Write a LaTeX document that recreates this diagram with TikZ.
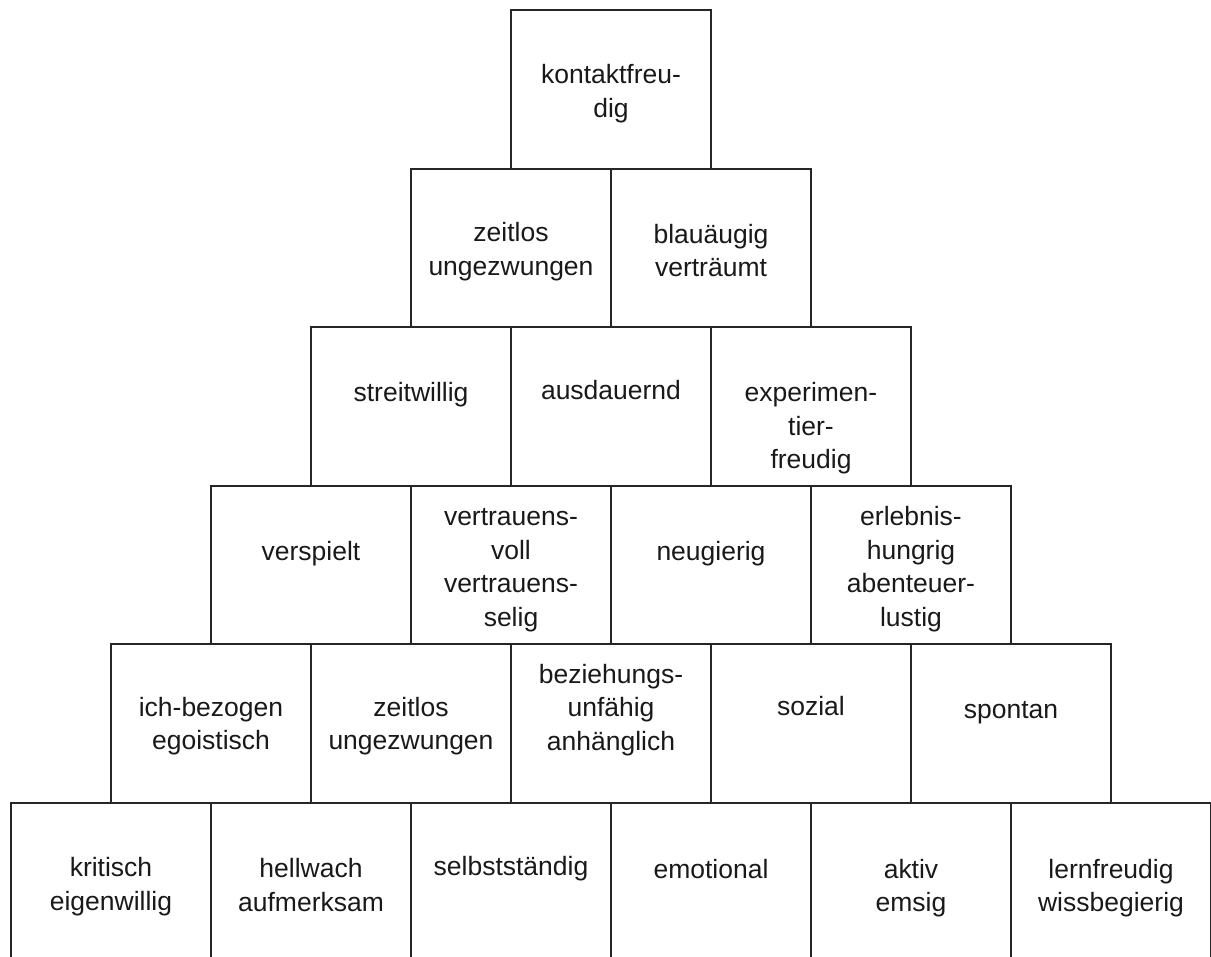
\documentclass[tikz,border=0pt]{standalone}
\usepackage{fontspec}
\setmainfont{Liberation Sans}
\tikzset{
  feld/.style={draw=black!85,line width=1.1pt,minimum width=4cm,minimum height=3.172cm,inner sep=0pt},
  wort/.style={align=center,inner sep=0pt,text=black!90,font=\fontsize{15.08pt}{19.06pt}\selectfont}
}
\begin{document}
\begin{tikzpicture}[x=0.02cm,y=-0.02cm]
\useasboundingbox (0,0) rectangle (1211,957);

% Reihe 1
\node(f11) at (611,89.3)[feld]{};
\node(w11) at (611,93.5)[wort]{kontaktfreu-\\dig};

% Reihe 2
\node(f21) at (511,247.9)[feld]{};
\node(f22) at (711,247.9)[feld]{};
\node(w21) at (511,251.5)[wort]{zeitlos\\ungezwungen};
\node(w22) at (711,250.5)[wort]{blauäugig\\verträumt};

% Reihe 3
\node(f31) at (411,406.5)[feld]{};
\node(f32) at (611,406.5)[feld]{};
\node(f33) at (811,406.5)[feld]{};
\node(w31) at (411,395)[wort]{streitwillig};
\node(w32) at (611,390)[wort]{ausdauernd};
\node(w33) at (811,428.3)[wort]{experimen-\\tier-\\freudig};

% Reihe 4
\node(f41) at (311,565.1)[feld]{};
\node(f42) at (511,565.1)[feld]{};
\node(f43) at (711,565.1)[feld]{};
\node(f44) at (911,565.1)[feld]{};
\node(w41) at (311,554)[wort]{verspielt};
\node(w42) at (511,570)[wort]{vertrauens-\\voll\\vertrauens-\\selig};
\node(w43) at (711,554)[wort]{neugierig};
\node(w44) at (911,569)[wort]{erlebnis-\\hungrig\\abenteuer-\\lustig};

% Reihe 5
\node(f51) at (211,723.7)[feld]{};
\node(f52) at (411,723.7)[feld]{};
\node(f53) at (611,723.7)[feld]{};
\node(f54) at (811,723.7)[feld]{};
\node(f55) at (1011,723.7)[feld]{};
\node(w51) at (211,726)[wort]{ich-bezogen\\egoistisch};
\node(w52) at (411,726)[wort]{zeitlos\\ungezwungen};
\node(w53) at (611,710)[wort]{beziehungs-\\unfähig\\anhänglich};
\node(w54) at (811,706.5)[wort]{sozial};
\node(w55) at (1011,713)[wort]{spontan};

% Reihe 6
\node(f61) at (111,882.3)[feld]{};
\node(f62) at (311,882.3)[feld]{};
\node(f63) at (511,882.3)[feld]{};
\node(f64) at (711,882.3)[feld]{};
\node(f65) at (911,882.3)[feld]{};
\node(f66) at (1111,882.3)[feld]{};
\node(w61) at (111,886.7)[wort]{kritisch\\eigenwillig};
\node(w62) at (311,885)[wort]{hellwach\\aufmerksam};
\node(w63) at (511,869)[wort]{selbstständig};
\node(w64) at (711,869)[wort]{emotional};
\node(w65) at (911,888)[wort]{aktiv\\emsig};
\node(w66) at (1111,888)[wort]{lernfreudig\\wissbegierig};
\end{tikzpicture}
\end{document}
